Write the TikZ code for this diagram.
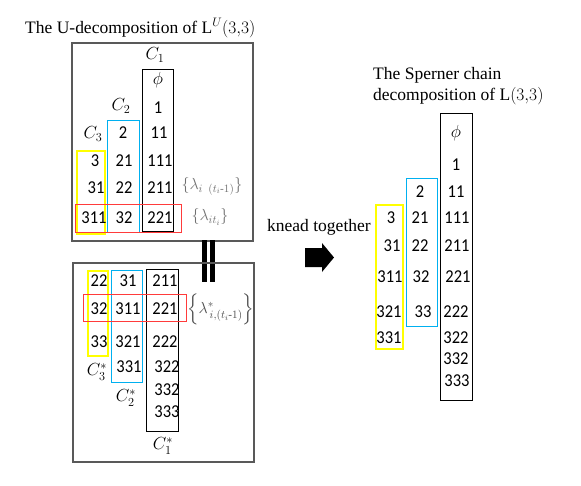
\documentclass[tikz,border=0pt]{standalone}
\usepackage{fix-cm}
\usepackage{amsmath}
\usepackage{fontspec}
\setmainfont{Liberation Serif}
\newfontfamily\chainfont{Carlito}
\definecolor{ChainYellow}{HTML}{FFFF00}
\definecolor{ChainCyan}{HTML}{00B0F0}
\definecolor{ChainRed}{HTML}{FF3B3B}
\definecolor{PanelGray}{HTML}{595959}
\definecolor{LabelGray}{HTML}{707070}
\newcommand{\numsize}{\fontsize{16.5}{19}\selectfont}
\newcommand{\txtsize}{\fontsize{17.5}{20}\selectfont}
\newcommand{\setsize}{\fontsize{16}{19}\selectfont}
\newcommand{\numtall}[1]{\scalebox{1}[1.1]{#1}}
\tikzset{
  chainnum/.style={font=\chainfont\numsize, inner sep=0pt},
  chainlbl/.style={font=\txtsize, inner sep=0pt},
  setlbl/.style={font=\setsize, text=LabelGray, inner sep=0pt},
  panel/.style={draw=PanelGray, line width=1.2pt},
  yellowbox/.style={draw=ChainYellow, line width=1.1pt},
  cyanbox/.style={draw=ChainCyan, line width=1pt},
  blackbox/.style={draw=black, line width=0.9pt},
  redbox/.style={draw=ChainRed, line width=1pt},
  thickbar/.style={line width=5pt},
}

\begin{document}
\begin{tikzpicture}[x=1pt,y=-1pt]
    \useasboundingbox (0,0) rectangle (581,485);

    % upper part
    \node[chainlbl, anchor=base west] (uptitle) at (25,33)
      {The U-decomposition of $\mathrm{L}^{U}(3{,}3)$};
    \draw[panel] (72,43) rectangle (253,241);
    \draw[blackbox] (142,69) rectangle (173,231);
    \draw[cyanbox] (107,120) rectangle (139,232);
    \draw[yellowbox] (77,151) rectangle (105,234);
    \draw[redbox] (75,204) rectangle (181,232);
    \node[chainlbl] (upcone) at (155,55) {$C_1$};
    \node[chainlbl] (upctwo) at (121,106) {$C_2$};
    \node[chainlbl] (upcthree) at (93,134) {$C_3$};
    \node[chainlbl] (up-phi) at (158,80) {$\phi$};
    \foreach \txt/\x/\y in {1/158/108, 11/159/133, 111/160/161, 211/160/188,
      221/160/218, 2/123/133, 21/124/161, 22/124/188, 32/124/218,
      3/95/161, 31/96/188, 311/94/218}
      \node[chainnum] (up-\txt) at (\x,\y) {\numtall{\txt}};
    \node[setlbl] (uplamone) at (212,186) {$\{\lambda_{i\ \,(t_i\text{-}1)}\}$};
    \node[setlbl] (uplamtwo) at (210,217) {$\{\lambda_{it_i}\}$};

    % link between the two parts
    \coordinate (bartop) at (208.5,240);
    \coordinate (barbot) at (208.5,282);
    \draw[thickbar] ([xshift=-4pt]bartop) -- ([xshift=-4pt]barbot);
    \draw[thickbar] ([xshift=4pt]bartop) -- ([xshift=4pt]barbot);

    % lower part
    \draw[panel] (73,263) rectangle (254,462);
    \draw[yellowbox] (88,271) rectangle (108,356);
    \draw[cyanbox] (111,270) rectangle (142,382);
    \draw[blackbox] (146,269) rectangle (178,431);
    \draw[redbox] (83,294) rectangle (186,321);
    \foreach \txt/\x/\y in {22/99/281, 32/99/309, 33/99/342,
      31/128/281, 311/128/309, 321/128/342, 331/129/367,
      211/165/281, 221/165/309, 222/165/342, 322/167/367, 332/167/390,
      333/167/412}
      \node[chainnum] (low-\txt) at (\x,\y) {\numtall{\txt}};
    \node[chainlbl] (lowcthree) at (97,372) {$C_3^{*}$};
    \node[chainlbl] (lowctwo) at (126,398) {$C_2^{*}$};
    \node[chainlbl] (lowcone) at (163,446) {$C_1^{*}$};
    \node[setlbl, text=black!70, anchor=west] (lowlam) at (187,309)
      {$\Big\{\lambda^{*}_{\,i,(t_i\text{-}1)}\Big\}$};

    % knead arrow
    \node[chainlbl, anchor=base west] (knead) at (267,231) {knead together};
    \fill (305,248) -- (322,248) -- (322,243) -- (334,257.5)
      -- (322,272) -- (322,267) -- (305,267) -- cycle;

    % sperner part
    \node[chainlbl, anchor=base west] (sptitle) at (373,79) {The Sperner chain};
    \node[chainlbl, anchor=base west] (sptitletwo) at (373,100)
      {decomposition of $\mathrm{L}(3{,}3)$};
    \draw[blackbox] (440,113) rectangle (472,400);
    \draw[cyanbox] (406,178) rectangle (437,326);
    \draw[yellowbox] (376,205) rectangle (403,349);
    \node[chainlbl] (sp-phi) at (456,133) {$\phi$};
    \foreach \txt/\x/\y in {1/456/165, 11/456/192, 111/457/218, 211/457/246,
      221/458/277, 222/456/312, 322/456/338, 332/456/359, 333/457/381,
      2/420/192, 21/420/218, 22/420/246, 32/421/277, 33/423/312,
      3/391/218, 31/392/246, 311/390/277, 321/389/312, 331/389/338}
      \node[chainnum] (sp-\txt) at (\x,\y) {\numtall{\txt}};
\end{tikzpicture}
\end{document}
